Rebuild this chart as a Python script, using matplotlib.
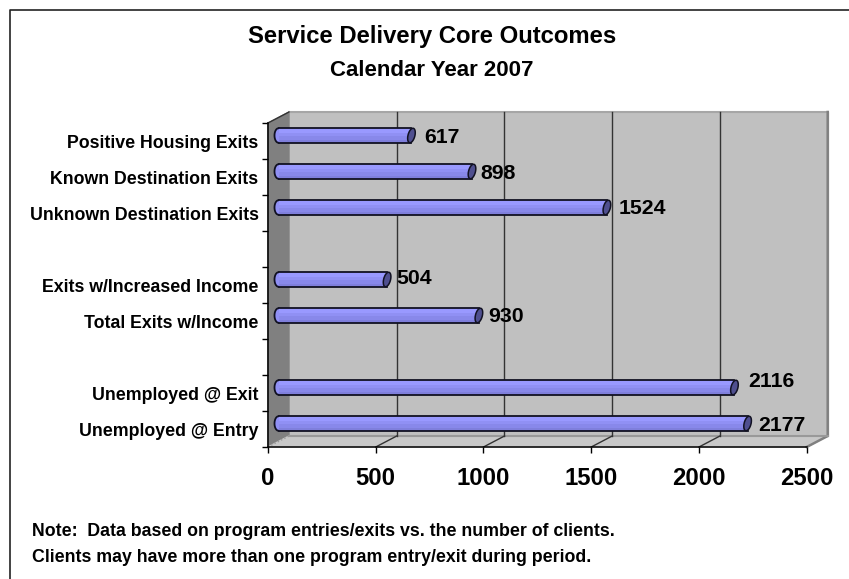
import numpy as np
import matplotlib
matplotlib.use('Agg')
import matplotlib.pyplot as plt
from matplotlib.lines import Line2D

plt.rcParams['font.family'] = ['Liberation Sans', 'DejaVu Sans']
plt.rcParams['font.weight'] = 'bold'

categories = ['Positive Housing Exits', 'Known Destination Exits', 'Unknown Destination Exits', '',
              'Exits w/Increased Income', 'Total Exits w/Income', '',
              'Unemployed @ Exit', 'Unemployed @ Entry']
values = [617, 898, 1524, None, 504, 930, None, 2116, 2177]
x_ticks = [0, 500, 1000, 1500, 2000, 2500]

W, H = 849, 579
fig = plt.figure(figsize=(W / 100, H / 100), dpi=100)

# front rectangle of the 3d box, in pixels
left, right, top, bottom = 268, 806.7, 123, 447
ax = fig.add_axes([left / W, 1 - bottom / H, (right - left) / W, (bottom - top) / H])
ax.set_xlim(0, 2500)
ax.set_ylim(9, 0)

px = 2500 / (right - left)   # data units per pixel, x
py = 9 / (bottom - top)      # data units per pixel, y
dx, dy = 21 * px, 11 * py    # depth of the box

# walls
ax.fill([dx, 2500 + dx, 2500 + dx, dx], [-dy, -dy, 9 - dy, 9 - dy], color='#c0c0c0', zorder=1, clip_on=False)
ax.fill([0, dx, dx, 0], [0, -dy, 9 - dy, 9], color='#808080', zorder=1, clip_on=False)
ax.fill([0, dx, 2500 + dx, 2500], [9, 9 - dy, 9 - dy, 9], color='#c8c8c8', zorder=1, clip_on=False)
ax.plot([dx, 2500 + dx], [-dy, -dy], color='#a6a6a6', lw=1.5, zorder=2, clip_on=False)
ax.plot([2500 + dx, 2500 + dx, 2500], [-dy, 9 - dy, 9], color='#808080', lw=1.8, zorder=2, clip_on=False)
ax.plot([dx, 2500 + dx], [9 - dy, 9 - dy], color='#999999', lw=1.5, zorder=2, clip_on=False)
ax.plot([0, dx], [9, 9 - dy], color='#999999', lw=1, ls=':', zorder=2, clip_on=False)
ax.plot([0, dx], [0, -dy], color='#333333', lw=1, zorder=2, clip_on=False)

# gridlines on back wall and floor
for t in x_ticks[1:-1]:
    ax.plot([t + dx, t + dx], [-dy, 9 - dy], color='#333333', lw=1, zorder=2, clip_on=False)
    ax.plot([t, t + dx], [9, 9 - dy], color='#333333', lw=1, zorder=2, clip_on=False)

# bars
bar_h = 14.5 * py
bands = [('#9999ff', 0.34), ('#9090f4', 0.22), ('#8888ea', 0.22), ('#7f7fdc', 0.22)]
label_off = [(23, -2), (19, -2), (22, -1), None, (20, 1), (20, -1), None, (24, 6), (21, -2)]
t = np.linspace(0, 2 * np.pi, 60)
for i, v in enumerate(values):
    if v is None:
        continue
    yc = i + 0.5 - dy / 2
    x0 = dx / 2
    x1 = v + dx / 2
    # rounded left end
    ax.fill(x0 + 4 * px * np.cos(t), yc + bar_h / 2 * np.sin(t), facecolor='#9090f4',
            edgecolor='#111122', lw=1.3, zorder=3)
    y = yc - bar_h / 2
    for col, frac in bands:
        ax.barh(y + frac * bar_h / 2, v, left=x0, height=frac * bar_h, color=col, zorder=4)
        y += frac * bar_h
    ax.plot([x0, x1], [yc - bar_h / 2, yc - bar_h / 2], color='#111122', lw=1.3, zorder=5)
    ax.plot([x0, x1], [yc + bar_h / 2, yc + bar_h / 2], color='#111122', lw=1.3, zorder=5)
    # tilted end cap
    ax.fill(x1 + 3.5 * px * np.cos(t) - 1.5 * px * np.sin(t), yc + bar_h / 2 * np.sin(t),
            facecolor='#4f4f8f', edgecolor='#111122', lw=1.1, zorder=6)
    off = label_off[i]
    ax.annotate(str(v), (v, yc), xytext=off, textcoords='offset pixels', ha='left', va='center',
                fontsize=15.3, fontweight='bold', color='black', zorder=7)

# axes
for s in ['top', 'right']:
    ax.spines[s].set_visible(False)
for s in ['left', 'bottom']:
    ax.spines[s].set_zorder(8)
    ax.spines[s].set_linewidth(1.1)
ax.set_xticks(x_ticks)
ax.set_yticks(np.arange(9) + 0.5)
ax.set_yticklabels(categories, fontsize=12.8, fontweight='bold')
ax.set_yticks(np.arange(10), minor=True)
ax.tick_params(axis='y', which='major', length=0, pad=6.8)
ax.tick_params(axis='y', which='minor', length=4.3, width=1)
ax.tick_params(axis='x', length=4.3, width=1, labelsize=17.2, pad=10)
for lab in ax.get_xticklabels():
    lab.set_fontweight('bold')

# outer frame, open on the right and the bottom
fig.add_artist(Line2D([10 / W, 10 / W, 1], [0, 1 - 10 / H, 1 - 10 / H], color='#222222', lw=1.2))

fig.text(432 / W, 1 - 37 / H, 'Service Delivery Core Outcomes', ha='center', va='center', fontsize=17.2, fontweight='bold')
fig.text(431.5 / W, 1 - 70 / H, 'Calendar Year 2007', ha='center', va='center', fontsize=16, fontweight='bold')
fig.text(32 / W, 1 - 531 / H, 'Note:  Data based on program entries/exits vs. the number of clients.',
         ha='left', va='center', fontsize=12.8, fontweight='bold')
fig.text(32 / W, 1 - 557 / H, 'Clients may have more than one program entry/exit during period.',
         ha='left', va='center', fontsize=12.8, fontweight='bold')

fig.savefig('out.png', dpi=100)
